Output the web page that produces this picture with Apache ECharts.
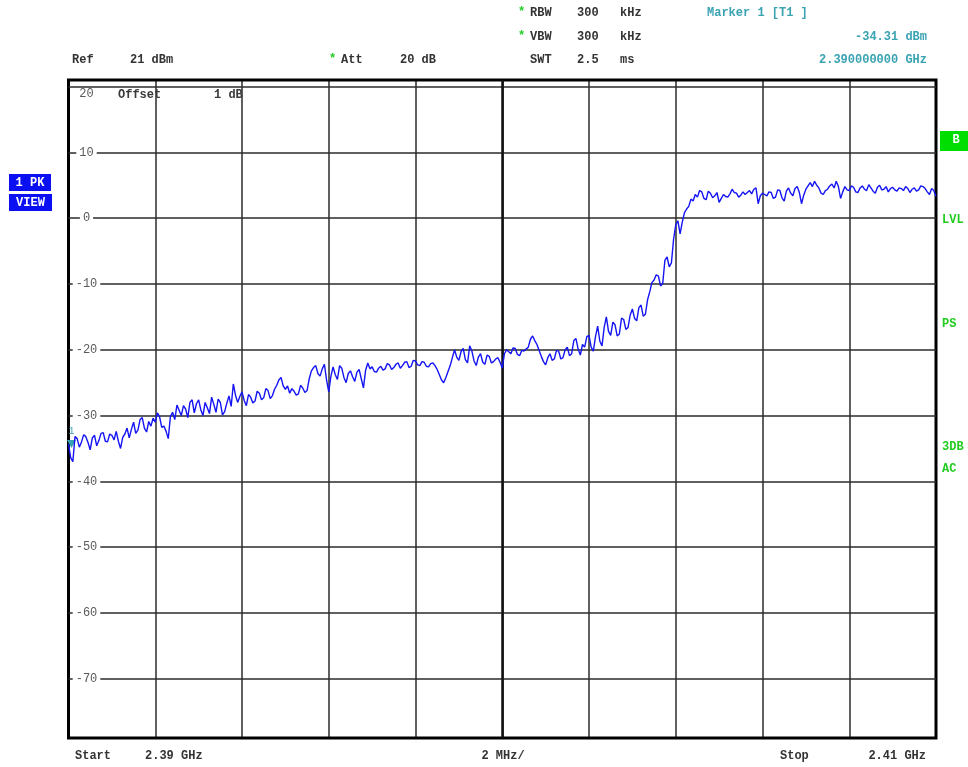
<!DOCTYPE html>
<html><head><meta charset="utf-8">
<script src="https://cdn.jsdelivr.net/npm/echarts@6/dist/echarts.min.js"></script>
<style>html,body{margin:0;background:#fff}#c{width:968px;height:767px}</style>
</head><body><div id="c"></div>
<script>
// ---- data ----
const freqStartMHz = 2390;
const freqStepMHz = 0.05;
const traceLevels = [
  -34.3,-36.4,-37.0,-33.2,-33.5,-34.8,-34.0,-32.9,-33.2,-34.1,-35.2,-33.4,-33.0,-34.6,-33.8,-32.7,-32.6,-33.9,-34.0,-32.8,
  -33.0,-33.7,-32.4,-33.9,-35.0,-33.3,-32.8,-31.9,-33.4,-32.1,-31.0,-32.7,-32.2,-30.6,-30.3,-31.9,-32.5,-30.9,-31.6,-30.4,
  -31.0,-29.6,-30.2,-31.8,-31.6,-32.4,-33.5,-30.1,-29.5,-30.6,-28.4,-29.2,-30.0,-28.5,-29.0,-30.3,-28.0,-27.6,-29.6,-28.2,
  -27.6,-29.1,-30.0,-28.0,-28.8,-29.7,-27.2,-28.3,-29.5,-27.5,-28.0,-29.9,-29.4,-28.1,-27.0,-28.6,-25.2,-26.9,-28.0,-27.1,
  -26.4,-27.7,-28.5,-26.8,-27.2,-28.1,-27.8,-26.3,-26.6,-27.6,-27.3,-25.9,-26.2,-27.4,-27.0,-26.0,-25.4,-24.6,-24.2,-25.5,
  -26.0,-25.5,-26.6,-25.9,-26.3,-26.9,-26.7,-25.4,-25.8,-26.5,-26.2,-24.4,-23.2,-22.7,-22.4,-23.6,-24.0,-22.9,-22.2,-24.6,
  -26.4,-24.0,-22.6,-23.8,-24.5,-22.4,-22.8,-24.2,-25.0,-23.6,-23.2,-24.1,-24.8,-23.4,-23.0,-24.4,-25.8,-23.1,-22.0,-22.9,
  -22.6,-23.3,-23.4,-22.8,-22.5,-23.1,-22.9,-22.1,-22.3,-23.0,-22.7,-22.2,-22.0,-22.8,-22.4,-21.9,-21.8,-22.7,-22.5,-21.6,
  -21.7,-22.3,-22.4,-21.8,-21.9,-22.5,-22.6,-22.1,-22.0,-22.4,-23.0,-23.8,-24.6,-25.0,-24.2,-23.3,-22.4,-21.2,-20.0,-21.1,
  -21.6,-20.3,-19.8,-21.5,-22.0,-19.4,-20.2,-21.7,-22.4,-21.1,-20.6,-21.9,-22.2,-20.8,-21.0,-22.0,-21.8,-21.4,-21.2,-21.9,
  -22.8,-20.6,-20.0,-20.3,-20.6,-19.7,-19.8,-20.7,-20.9,-20.1,-20.2,-19.9,-19.6,-18.4,-17.9,-18.6,-19.2,-20.1,-21.0,-21.8,
  -22.3,-21.2,-20.6,-21.6,-21.4,-20.1,-20.2,-21.4,-21.2,-20.0,-19.6,-20.9,-20.6,-18.6,-18.3,-19.9,-20.8,-19.2,-19.6,-18.0,
  -17.8,-19.6,-20.2,-18.0,-16.4,-18.7,-19.4,-16.6,-15.0,-17.2,-17.8,-15.8,-16.2,-17.9,-17.6,-15.2,-15.4,-16.9,-16.6,-14.7,
  -13.8,-15.2,-15.6,-13.6,-13.2,-14.9,-14.6,-12.4,-11.2,-9.8,-9.4,-8.6,-8.8,-10.3,-9.9,-6.4,-5.9,-7.4,-6.8,-3.2,
  -1.0,-0.4,-2.4,-0.6,0.8,1.4,1.8,2.9,2.6,3.6,3.2,4.2,4.0,3.0,2.8,4.1,3.8,3.1,3.4,3.9,
  2.4,3.0,3.6,3.3,3.2,3.7,4.4,3.9,3.8,3.2,3.5,4.0,3.6,3.9,4.2,3.7,4.4,4.6,2.2,3.4,
  3.8,3.6,3.4,4.0,3.9,3.0,3.2,4.3,4.2,3.1,2.6,4.1,4.6,3.8,3.4,4.5,4.8,3.9,2.2,3.5,
  4.4,4.9,5.4,4.8,5.6,5.0,4.6,3.8,3.6,4.2,4.4,4.9,5.2,4.6,5.6,4.8,3.0,4.0,4.8,4.3,
  4.2,4.9,4.7,4.0,3.9,4.6,4.9,4.4,4.2,5.1,4.6,4.1,3.8,4.7,5.0,4.3,4.4,4.8,4.0,4.5,
  4.7,4.3,4.1,4.6,4.5,4.2,4.8,4.5,3.9,4.4,4.6,4.1,4.3,4.9,4.8,4.5,4.0,3.6,4.5,4.2,
  3.3
];
const yGridValues = [20, 10, 0, -10, -20, -30, -40, -50, -60, -70];
const xMinMHz = 2390, xMaxMHz = 2410, xDivMHz = 2;
const yMinDbm = -79, yMaxDbm = 21;
const centerFreqMHz = 2400;
const markerFreqMHz = 2390, markerLevelDbm = -34.31;

// ---- chart ----
const traceData = traceLevels.map((v, i) => [+(freqStartMHz + i * freqStepMHz).toFixed(2), v]);
const mono = '"Liberation Mono", "DejaVu Sans Mono", monospace';
const teal = '#3aa3b2';
const grn = '#22cc22';
function txt(text, x, y, opt) {
  opt = opt || {};
  return { type: 'text', x: x, y: y, silent: true, z: 100,
    style: { text: text, fill: opt.fill || '#333', fontFamily: mono,
      fontSize: opt.size || 12, fontWeight: opt.weight || 'bold',
      textAlign: opt.align || 'left', textVerticalAlign: 'middle' } };
}
const chart = echarts.init(document.getElementById('c'), null, { renderer: 'canvas' });
chart.setOption({
  animation: false,
  backgroundColor: '#fff',
  grid: { left: 68.5, right: 32, top: 80, bottom: 29, show: true,
    borderColor: '#000', borderWidth: 3, backgroundColor: 'transparent', z: 2 },
  xAxis: { type: 'value', min: xMinMHz, max: xMaxMHz, interval: xDivMHz,
    axisLine: { show: false }, axisTick: { show: false }, axisLabel: { show: false },
    splitLine: { show: true, lineStyle: { color: '#2b2b2b', width: 1.5 } } },
  yAxis: { type: 'value', min: yMinDbm, max: yMaxDbm,
    axisLine: { show: false }, axisTick: { show: false }, splitLine: { show: false },
    axisLabel: { show: true, inside: true, customValues: yGridValues, margin: 18, align: 'center',
      fontFamily: mono, fontSize: 12, color: '#5a5a5a',
      formatter: v => v === 20 ? '{t|20}' : '{n|' + v + '}',
      rich: { t: { padding: [15, 2, 0, 2], fontFamily: mono, fontSize: 12, color: '#5a5a5a' },
              n: { backgroundColor: '#fff', padding: [1, 3], fontFamily: mono, fontSize: 12, color: '#5a5a5a' } } },
    z: 20 },
  series: [
    { type: 'line', data: [], z: 1, silent: true,
      markLine: { silent: true, symbol: 'none', label: { show: false }, animation: false,
        lineStyle: { color: '#2b2b2b', width: 1.5, type: 'solid' },
        data: yGridValues.map(v => ({ yAxis: v })).concat([{ xAxis: centerFreqMHz, lineStyle: { width: 2.5, color: '#111' } }]) } },
    { type: 'line', data: traceData, z: 25, symbol: 'none', showSymbol: false,
      lineStyle: { color: '#1414f5', width: 1.4 }, clip: true,
      markPoint: { silent: true, animation: false,
        data: [{ coord: [markerFreqMHz, markerLevelDbm], symbol: 'triangle', symbolRotate: 180,
          symbolSize: [9, 8], symbolOffset: [3, 0], itemStyle: { color: teal },
          label: { show: true, formatter: '1', position: 'top', distance: 4, color: teal,
            fontFamily: mono, fontSize: 10 } }] } }
  ],
  graphic: [
    txt('*', 518, 12, { fill: grn }), txt('RBW', 530, 13), txt('300', 577, 13), txt('kHz', 620, 13),
    txt('*', 518, 36, { fill: grn }), txt('VBW', 530, 37), txt('300', 577, 37), txt('kHz', 620, 37),
    txt('SWT', 530, 60), txt('2.5', 577, 60), txt('ms', 620, 60),
    txt('Marker 1 [T1 ]', 707, 13, { fill: teal }),
    txt('-34.31 dBm', 927, 37, { fill: teal, align: 'right' }),
    txt('2.390000000 GHz', 927, 60, { fill: teal, align: 'right' }),
    txt('Ref', 72, 60), txt('21 dBm', 130, 60),
    txt('*', 329, 59, { fill: grn }), txt('Att', 341, 60), txt('20 dB', 400, 60),
    txt('Offset', 118, 95, { fill: '#3a3a3a' }), txt('1 dB', 214, 95, { fill: '#3a3a3a' }),
    txt('Start', 75, 756), txt('2.39 GHz', 145, 756),
    txt('2 MHz/', 503, 756, { align: 'center' }),
    txt('Stop', 780, 756), txt('2.41 GHz', 926, 756, { align: 'right' }),
    { type: 'rect', shape: { x: 9, y: 174, width: 42, height: 17 }, style: { fill: '#0a10f2' }, z: 99 },
    txt('1 PK', 30, 182.5, { fill: '#fff', align: 'center' }),
    { type: 'rect', shape: { x: 9, y: 194, width: 43, height: 17 }, style: { fill: '#0a10f2' }, z: 99 },
    txt('VIEW', 30.5, 202.5, { fill: '#fff', align: 'center' }),
    { type: 'rect', shape: { x: 940, y: 131, width: 28, height: 20 }, style: { fill: '#00dd00' }, z: 99 },
    txt('B', 956, 140, { fill: '#fff', align: 'center' }),
    txt('LVL', 942, 220, { fill: grn }),
    txt('PS', 942, 324, { fill: grn }),
    txt('3DB', 942, 447, { fill: grn }),
    txt('AC', 942, 469, { fill: grn })
  ]
});
</script>
</body></html>
